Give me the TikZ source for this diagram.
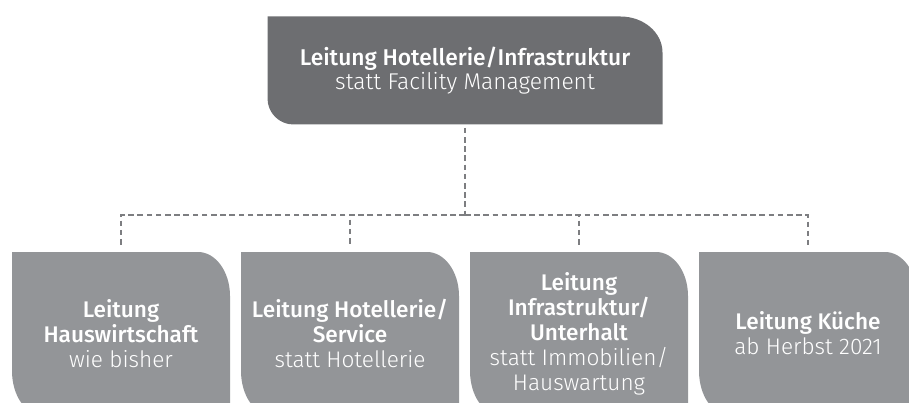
\documentclass[tikz,border=0pt]{standalone}
\usepackage{fontspec}
\setmainfont{Fira Sans Light}[BoldFont=Fira Sans Medium]
\definecolor{darkleaf}{HTML}{6D6E71}
\definecolor{lightleaf}{HTML}{939598}
\definecolor{dashgrey}{HTML}{7D7E81}
\newcommand{\leafshape}[5]{%
  \fill[#1] (path picture bounding box.north west)
    -- ([xshift=-#2]path picture bounding box.north east)
    arc[start angle=90, end angle=0, x radius=#2, y radius=#3]
    -- (path picture bounding box.south east)
    -- ([xshift=#4]path picture bounding box.south west)
    arc[start angle=270, end angle=180, x radius=#4, y radius=#5]
    -- cycle;}

\begin{document}
\begin{tikzpicture}[%
  x=0.5pt, y=0.5pt,
  node distance=114.5pt,
  head/.style={rectangle, inner sep=0pt, minimum width=197.5pt, minimum height=54pt,
    align=center, text=white, font=\fontsize{11.4pt}{11pt}\selectfont,
    path picture={\leafshape{darkleaf}{21pt}{18pt}{13pt}{13pt}}},
  leaf/.style={rectangle, inner sep=0pt, minimum width=109pt, minimum height=81.5pt,
    align=center, text=white, font=\fontsize{11.3pt}{12.5pt}\selectfont,
    path picture={\leafshape{lightleaf}{16pt}{22pt}{15pt}{22pt}}},
  link/.style={draw=dashgrey, line width=0.75pt, dash pattern=on 2.8pt off 1.8pt},]
  \useasboundingbox (0,0) rectangle (909,402);
  \clip (0,0) rectangle (909,402);
  \node[head] (lead) at (465,331.5) {\textbf{Leitung Hotellerie/Infrastruktur}\\statt Facility Management};
  \node[leaf] (hw) at (121,68.5) {\textbf{Leitung}\\\textbf{Hauswirtschaft}\\wie bisher};
  \node[leaf, right of=hw] (hs) {\textbf{Leitung Hotellerie/}\\\textbf{Service}\\statt Hotellerie};
  \node[leaf, right of=hs] (iu) {\textbf{Leitung}\\\textbf{Infrastruktur/}\\\textbf{Unterhalt}\\statt Immobilien/\\Hauswartung};
  \node[leaf, right of=iu] (kue) {\textbf{Leitung Küche}\\ab Herbst 2021};
  \coordinate (bus) at (465,187);
  \draw[link, shorten <=1.5pt] (lead) -- (bus);
  \foreach \unit in {hw,hs,iu,kue}
    \draw[link, shorten >=3.5pt] (bus) -| (\unit);
\end{tikzpicture}
\end{document}
